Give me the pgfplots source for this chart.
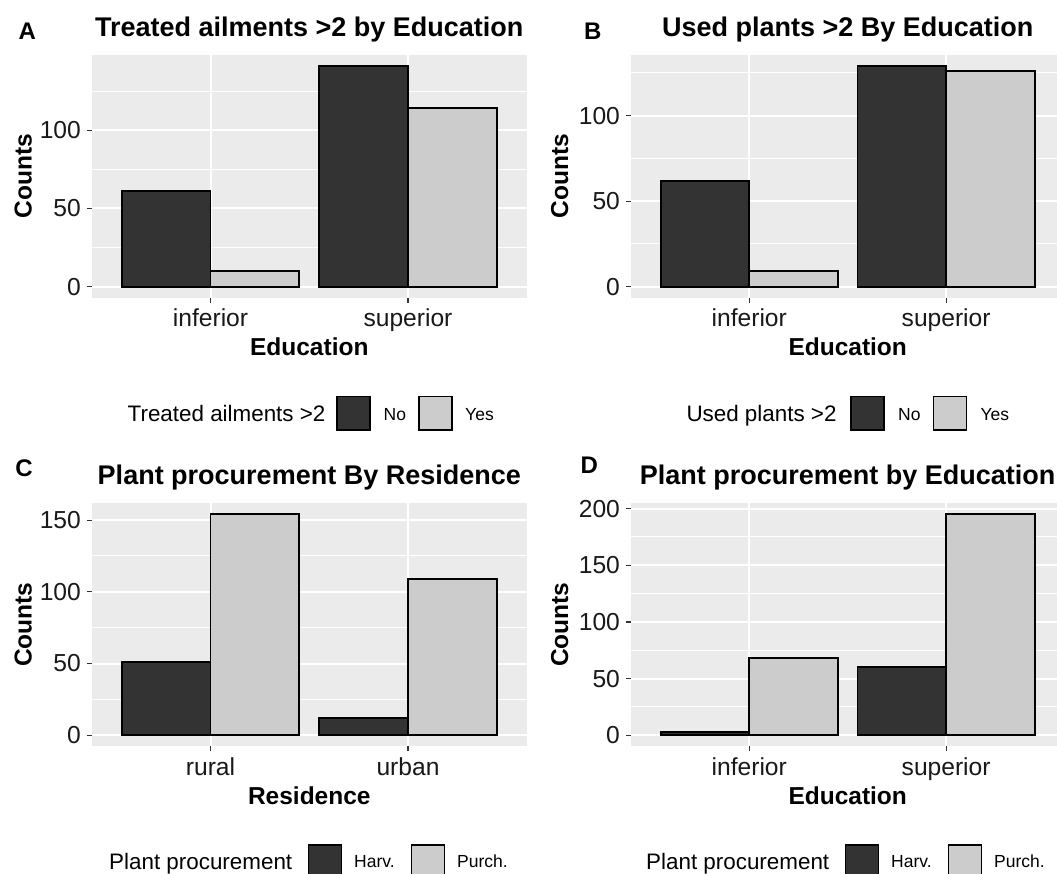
\documentclass[border=0pt]{standalone}
\usepackage{pgfplots}
\pgfplotsset{compat=1.18}
\usepackage{fontspec}
\setmainfont{Liberation Sans}

\definecolor{panelbg}{HTML}{EBEBEB}
\definecolor{darkfill}{HTML}{333333}
\definecolor{lightfill}{HTML}{CCCCCC}
\definecolor{tickcol}{HTML}{333333}

\newcommand{\titlefont}{\fontsize{27}{31}\selectfont\bfseries}
\newcommand{\labfont}{\fontsize{24.5}{28}\selectfont\bfseries}
\newcommand{\tagfont}{\fontsize{24}{28}\selectfont\bfseries}
\newcommand{\legtitlefont}{\fontsize{22.4}{26}\selectfont}
\newcommand{\legfont}{\fontsize{17.5}{20}\selectfont}

\pgfplotsset{
  ggpanel/.style={
    scale only axis, anchor=south west,
    xmin=0.4, xmax=2.6,
    axis background/.style={fill=panelbg},
    axis line style={draw=none},
    xtick={1,2}, xtick pos=bottom, ytick pos=left,
    tick align=outside, major tick length=5pt, minor tick length=0pt,
    tick style={draw=tickcol, line width=1.1pt},
    ymajorgrids, yminorgrids, xmajorgrids,
    major grid style={white, line width=2pt},
    minor grid style={white, line width=1pt},
    /pgf/number format/assume math mode=true,
    ticklabel style={font=\fontsize{24.6}{28}\selectfont, text=black!90, inner sep=0pt},
    % outside ticks already push the labels out by the tick length
    xticklabel style={anchor=base, yshift=-24pt},
    yticklabel style={anchor=east, xshift=-6pt},
    ybar, bar width=0.45, bar shift=0pt,
  },
  darkbar/.style={fill=darkfill, draw=black, line width=1.8pt},
  lightbar/.style={fill=lightfill, draw=black, line width=1.8pt},
}

\begin{document}
\begin{tikzpicture}
\path[fill=white, use as bounding box] (0pt,0pt) rectangle (1057pt,874pt);

% ---------- A: treated ailments by education ----------
\begin{axis}[ggpanel, at={(92pt,576.3pt)}, width=434.5pt, height=242.7pt,
  ymin=-7.05, ymax=148.05, ytick={0,50,100}, minor ytick={25,75,125},
  xticklabels={inferior,superior}]
  \addplot[darkbar]  coordinates {(0.775,61) (1.775,141)};
  \addplot[lightbar] coordinates {(1.225,10) (2.225,114)};
\end{axis}

% ---------- B: used plants by education ----------
\begin{axis}[ggpanel, at={(631.1pt,576.3pt)}, width=425.9pt, height=242.7pt,
  xmax=2.563,
  ymin=-6.45, ymax=135.45, ytick={0,50,100}, minor ytick={25,75,125},
  xticklabels={inferior,superior}]
  \addplot[darkbar]  coordinates {(0.775,62) (1.775,129)};
  \addplot[lightbar] coordinates {(1.225,9) (2.225,126)};
\end{axis}

% ---------- C: procurement by residence ----------
\begin{axis}[ggpanel, at={(92pt,127.7pt)}, width=434.5pt, height=243pt,
  ymin=-7.7, ymax=161.7, ytick={0,50,100,150}, minor ytick={25,75,125},
  xticklabels={rural,urban}]
  \addplot[darkbar]  coordinates {(0.775,51) (1.775,12)};
  \addplot[lightbar] coordinates {(1.225,154) (2.225,109)};
\end{axis}

% ---------- D: procurement by education ----------
\begin{axis}[ggpanel, at={(631.1pt,127.7pt)}, width=425.9pt, height=243pt,
  xmax=2.563,
  ymin=-9.75, ymax=204.75, ytick={0,50,100,150,200}, minor ytick={25,75,125,175},
  xticklabels={inferior,superior}]
  \addplot[darkbar]  coordinates {(0.775,3) (1.775,60)};
  \addplot[lightbar] coordinates {(1.225,68) (2.225,195)};
\end{axis}

% ---------- titles and panel tags ----------
\node[anchor=base, inner sep=0pt, font=\titlefont] at (309.3pt,837.3pt) {Treated ailments >2 by Education};
\node[anchor=base, inner sep=0pt, font=\titlefont] at (847.7pt,837.3pt) {Used plants >2 By Education};
\node[anchor=base, inner sep=0pt, font=\titlefont] at (309.3pt,389pt) {Plant procurement By Residence};
\node[anchor=base, inner sep=0pt, font=\titlefont] at (847.7pt,389pt) {Plant procurement by Education};

\node[anchor=base west, inner sep=0pt, font=\tagfont] at (18.3pt,834.7pt) {A};
\node[anchor=base west, inner sep=0pt, font=\tagfont] at (583.8pt,834.7pt) {B};
\node[anchor=base west, inner sep=0pt, font=\tagfont] at (15.2pt,397.3pt) {C};
\node[anchor=base west, inner sep=0pt, font=\tagfont] at (580.4pt,400.7pt) {D};

% ---------- axis titles ----------
\node[anchor=base, inner sep=0pt, font=\labfont] at (309.3pt,518pt) {Education};
\node[anchor=base, inner sep=0pt, font=\labfont] at (847.7pt,518pt) {Education};
\node[anchor=base, inner sep=0pt, font=\labfont] at (309.3pt,69.7pt) {Residence};
\node[anchor=base, inner sep=0pt, font=\labfont] at (847.7pt,69.7pt) {Education};

\node[rotate=90, anchor=base, inner sep=0pt, font=\labfont] at (31.7pt,697.6pt) {Counts};
\node[rotate=90, anchor=base, inner sep=0pt, font=\labfont] at (568pt,697.6pt) {Counts};
\node[rotate=90, anchor=base, inner sep=0pt, font=\labfont] at (31.7pt,249.2pt) {Counts};
\node[rotate=90, anchor=base, inner sep=0pt, font=\labfont] at (568pt,249.2pt) {Counts};

% ---------- legends ----------
\begin{scope}[every node/.style={inner sep=0pt, anchor=base west}]
  % A
  \node[font=\legtitlefont] at (127.5pt,452.3pt) {Treated ailments >2};
  \draw[fill=darkfill, line width=1.6pt] (337pt,444pt) rectangle (370pt,477.3pt);
  \node[font=\legfont] at (383.5pt,453.8pt) {No};
  \draw[fill=lightfill, line width=1.6pt] (418.7pt,444pt) rectangle (451.7pt,477.3pt);
  \node[font=\legfont] at (465pt,453.8pt) {Yes};
  % B
  \node[font=\legtitlefont] at (686.3pt,452.3pt) {Used plants >2};
  \draw[fill=darkfill, line width=1.6pt] (851pt,444pt) rectangle (884pt,477.3pt);
  \node[font=\legfont] at (898pt,453.8pt) {No};
  \draw[fill=lightfill, line width=1.6pt] (933.4pt,444pt) rectangle (966.4pt,477.3pt);
  \node[font=\legfont] at (980.4pt,453.8pt) {Yes};
  % C
  \node[font=\legtitlefont] at (109pt,4.7pt) {Plant procurement};
  \draw[fill=darkfill, line width=1.6pt] (308.3pt,-4.3pt) rectangle (341.3pt,29pt);
  \node[font=\legfont] at (354pt,6pt) {Harv.};
  \draw[fill=lightfill, line width=1.6pt] (411.3pt,-4.3pt) rectangle (444.3pt,29pt);
  \node[font=\legfont] at (457pt,6pt) {Purch.};
  % D
  \node[font=\legtitlefont] at (646pt,4.7pt) {Plant procurement};
  \draw[fill=darkfill, line width=1.6pt] (845.3pt,-4.3pt) rectangle (878.3pt,29pt);
  \node[font=\legfont] at (891pt,6pt) {Harv.};
  \draw[fill=lightfill, line width=1.6pt] (948.3pt,-4.3pt) rectangle (981.3pt,29pt);
  \node[font=\legfont] at (994pt,6pt) {Purch.};
\end{scope}
\end{tikzpicture}
\end{document}
